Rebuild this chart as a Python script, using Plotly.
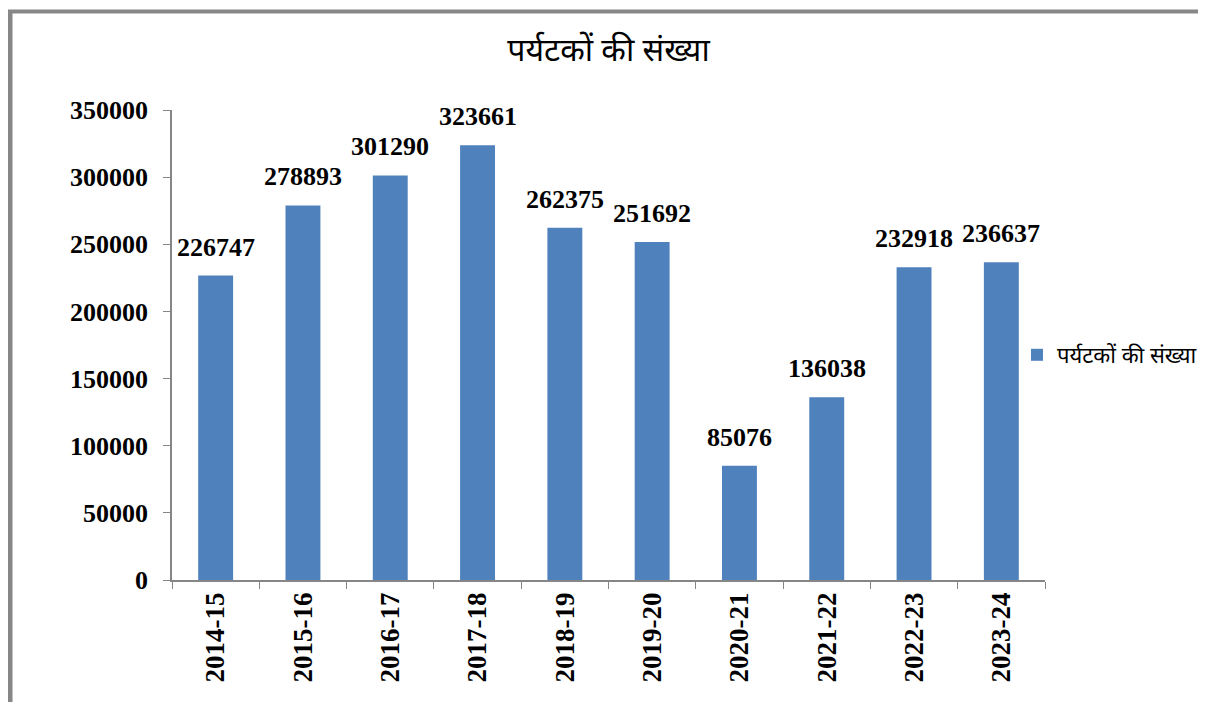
import plotly.graph_objects as go

categories = ["2014-15", "2015-16", "2016-17", "2017-18", "2018-19",
              "2019-20", "2020-21", "2021-22", "2022-23", "2023-24"]
tourists = [226747, 278893, 301290, 323661, 262375, 251692, 85076, 136038, 232918, 236637]
series_name = "पर्यटकों की संख्या"
title_text = "पर्यटकों की संख्या"

serif = "Liberation Serif, Times New Roman, serif"
deva = "Noto Sans, Lohit Devanagari, Mangal, sans-serif"

# page body has an 8px margin: work in figure coordinates = screen - 8
OFF = 8
W, H = 1206 - OFF, 702 - OFF
L = 172 - OFF
R = W - (1045 - OFF)
T = 110 - OFF
B = H - (580 - OFF)
pw, ph = W - L - R, H - T - B


def px(x):
    return (x - OFF - L) / pw


def py(y):
    return (H - B - (y - OFF)) / ph


fig = go.Figure()
fig.add_trace(go.Bar(
    x=categories, y=tourists, name=series_name,
    marker=dict(color="#4F81BD", line=dict(width=0)),
    showlegend=True,
))
for c, v in zip(categories, tourists):
    fig.add_annotation(x=c, y=v, text=str(v), showarrow=False,
                       yanchor="bottom", yshift=12,
                       font=dict(family=serif, size=26, color="black", weight="bold"))

fig.update_layout(
    width=W, height=H,
    margin=dict(l=L, r=R, t=T, b=B, autoexpand=False),
    paper_bgcolor="white", plot_bgcolor="white",
    bargap=0.6,
    title=dict(text=title_text, x=0.5, xref="paper", xanchor="center",
               y=1 - (50 - OFF) / H, yanchor="middle",
               font=dict(family=deva, size=32, color="black")),
    legend=dict(x=px(1017), y=py(355), xanchor="left", yanchor="middle",
                font=dict(family=deva, size=22, color="black"),
                bgcolor="rgba(0,0,0,0)", itemwidth=30),
    shapes=[
        dict(type="line", xref="paper", yref="paper", x0=px(8), x1=px(1210),
             y0=py(11.5), y1=py(11.5), line=dict(color="#878787", width=4)),
        dict(type="line", xref="paper", yref="paper", x0=px(10), x1=px(10),
             y0=py(10), y1=py(710), line=dict(color="#878787", width=5)),
    ],
)
fig.update_xaxes(
    showline=True, linecolor="#868686", linewidth=1.5,
    ticks="outside", tickson="boundaries", ticklen=7, tickcolor="#868686",
    tickangle=-90, tickfont=dict(family=serif, size=27, color="black", weight="bold"),
    showgrid=False, automargin=False,
)
fig.update_yaxes(
    range=[0, 350000], dtick=50000, showline=True, linecolor="#868686", linewidth=1.5,
    ticks="outside", ticklen=7, tickcolor="#868686", showgrid=False, zeroline=False,
    tickfont=dict(family=serif, size=26, color="black", weight="bold"),
    tickformat="d", ticklabelstandoff=10, automargin=False,
)
fig.write_html("out.html")
